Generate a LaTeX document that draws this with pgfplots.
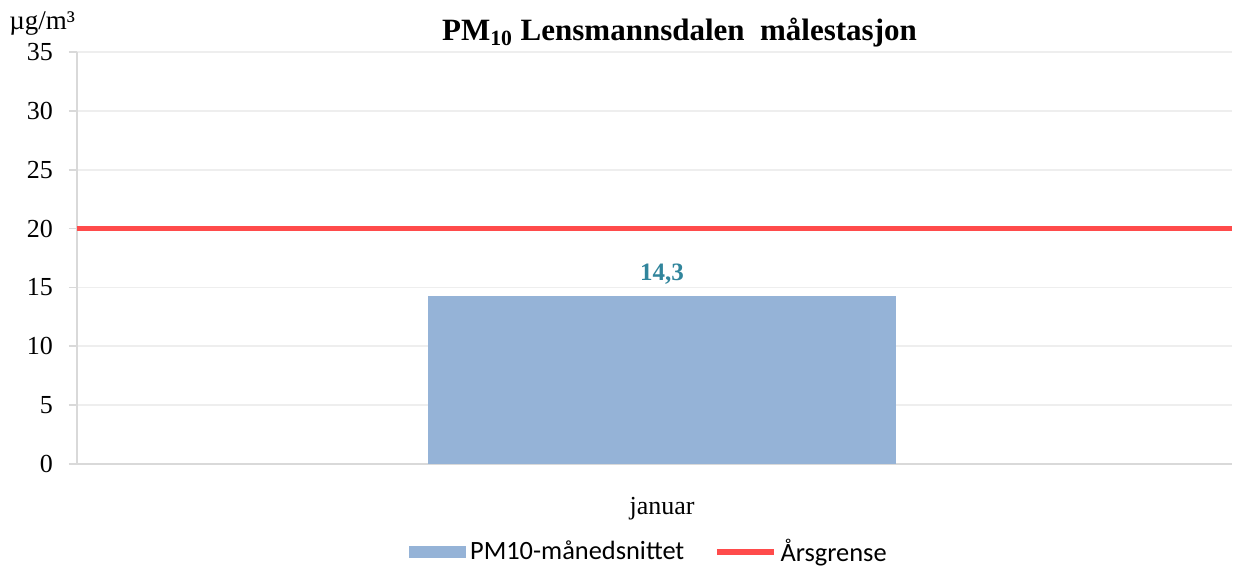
\documentclass[border=0pt]{standalone}
\usepackage{fontspec}
\setmainfont{Liberation Serif}
\newfontfamily\legfont{Carlito}
\usepackage{pgfplots}
\pgfplotsset{compat=1.18}
\definecolor{barblue}{HTML}{95B3D7}
\definecolor{limred}{HTML}{FF4B4B}
\definecolor{labteal}{HTML}{31859C}
\definecolor{gridc}{HTML}{EEEEEE}
\definecolor{axc}{HTML}{D9D9D9}
\begin{document}
\begin{tikzpicture}
\begin{axis}[
  name=ax,
  at={(0,0)}, anchor=south west,
  scale only axis,
  width=577.5pt, height=206pt,
  xmin=-1, xmax=0.974,
  ymin=0, ymax=35,
  ytick={0,5,...,35},
  xtick={0}, xticklabels={januar},
  major x tick style={draw=none},
  axis x line*=bottom, axis y line*=left,
  axis line style={draw=axc, line width=0.8pt},
  ytick style={draw=axc, line width=0.8pt},
  tick align=outside,
  major tick length=4pt,
  ymajorgrids, grid style={draw=gridc, line width=0.8pt},
  /pgf/number format/assume math mode=true,
  tick label style={font=\fontsize{13}{15}\selectfont},
  yticklabel style={xshift=-4.5pt},
  xticklabel style={yshift=-9pt},
  legend style={draw=none, legend columns=2, at={(0.496,-0.2136)}, anchor=center,
    font=\legfont\fontsize{13.2}{15}\selectfont,
    /tikz/every even column/.append style={column sep=13pt}},
  legend cell align=left,
]
\addplot[ybar, bar width=234pt, fill=barblue, draw=none,
  nodes near coords={\pgfmathprintnumber[use comma,fixed,precision=1,fixed zerofill]{\pgfplotspointmeta}},
  nodes near coords style={font=\fontsize{12.5}{14}\selectfont\bfseries, text=labteal, yshift=2pt},
  area legend,
  legend image code/.code={\fill[barblue] (0pt,-3pt) rectangle (28.5pt,3pt);}
] coordinates {(0,14.3)};
\addlegendentry{PM10-månedsnittet}
\addplot[draw=limred, line width=2.6pt,
  legend image code/.code={\draw[limred, line width=2.6pt] (0pt,0pt) -- (28.5pt,0pt);}
] coordinates {(-1,20) (0.974,20)};
\addlegendentry{Årsgrense}
\end{axis}
\node[anchor=base, font=\fontsize{15.5}{17}\selectfont\bfseries] at ([xshift=12.5pt,yshift=5.5pt]ax.north) {PM\textsubscript{10} Lensmannsdalen\ \ målestasjon};
\node[anchor=base west, font=\fontsize{13.5}{15}\selectfont, inner sep=0pt] at ([xshift=-34pt,yshift=11pt]ax.north west) {µg/m³};
\useasboundingbox (-38.5pt,-51.5pt) rectangle (584pt,232pt);
\end{tikzpicture}
\end{document}
